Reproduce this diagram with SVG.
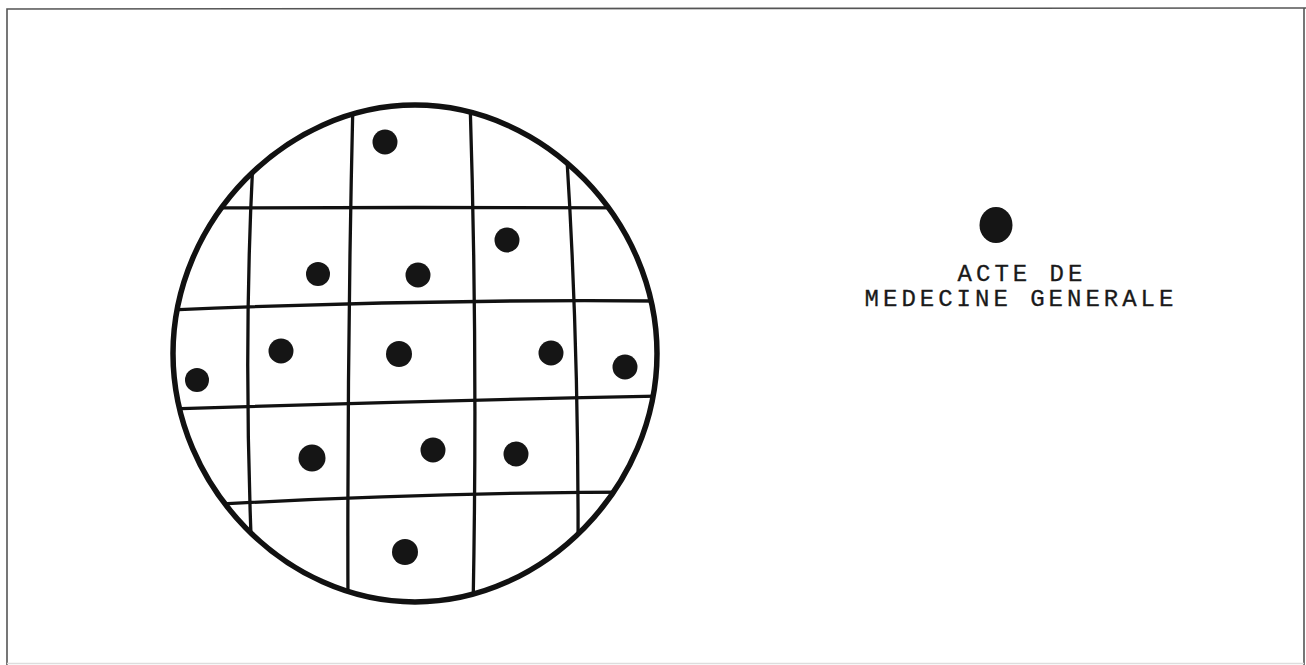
<svg xmlns="http://www.w3.org/2000/svg" width="1306" height="665" viewBox="0 0 1306 665">
<style>
.frame{fill:none;stroke:#555;stroke-width:1.6}
.faint{fill:none;stroke:#ddd;stroke-width:1.5}
.grid{fill:none;stroke:#111;stroke-width:3.3;stroke-linecap:round}
.rim{fill:none;stroke:#111;stroke-width:5.5}
.dot{fill:#151515}
.lbl{font-family:"Liberation Mono","Courier New",monospace;font-size:24px;fill:#1a1a1a;text-anchor:middle;letter-spacing:4px;stroke:#1a1a1a;stroke-width:0.3}
</style>
<defs>
<path id="rimShape" d="M657,353.5 C657,486.4 544.5,602 415,602 C285.5,602 173,486.4 173,353.5 C173,220.6 285.5,105 415,105 C544.5,105 657,220.6 657,353.5 Z"/>
<clipPath id="disc"><use href="#rimShape"/></clipPath>
</defs>
<rect width="1306" height="665" fill="#fff"/>
<path class="frame" d="M7,665 L7,9 L1306,8 M1304,8 L1304,665"/>
<path class="faint" d="M7,663.5 L1304,663.5"/>
<g id="petri">
<g clip-path="url(#disc)">
<path class="grid" d="M253,160 Q243,350 252,560"/>
<path class="grid" d="M353,100 Q347,350 348,610"/>
<path class="grid" d="M470,100 Q478,350 473,610"/>
<path class="grid" d="M567,160 Q579,350 578,560"/>
<path class="grid" d="M170,208 Q415,207 660,208"/>
<path class="grid" d="M170,310 Q415,299 660,301"/>
<path class="grid" d="M170,409 Q415,401 660,396"/>
<path class="grid" d="M170,507 Q415,492 660,492"/>
</g>
<use href="#rimShape" class="rim"/>
<circle class="dot" cx="385" cy="142" r="12.5"/>
<circle class="dot" cx="507" cy="240" r="12.5"/>
<circle class="dot" cx="318" cy="274" r="12"/>
<circle class="dot" cx="418" cy="275" r="12.5"/>
<circle class="dot" cx="281" cy="351" r="12.5"/>
<circle class="dot" cx="399" cy="354" r="13"/>
<circle class="dot" cx="551" cy="353" r="12.5"/>
<circle class="dot" cx="197" cy="380" r="12"/>
<circle class="dot" cx="625" cy="367" r="12.5"/>
<circle class="dot" cx="312" cy="458" r="13.5"/>
<circle class="dot" cx="433" cy="450" r="12.5"/>
<circle class="dot" cx="516" cy="454" r="12.5"/>
<circle class="dot" cx="405" cy="552" r="13"/>
</g>
<g id="legend">
<ellipse class="dot" cx="996" cy="225" rx="16.5" ry="18"/>
<text class="lbl" x="1022" y="281">ACTE DE</text>
<text class="lbl" x="1021" y="306">MEDECINE GENERALE</text>
</g>
</svg>
